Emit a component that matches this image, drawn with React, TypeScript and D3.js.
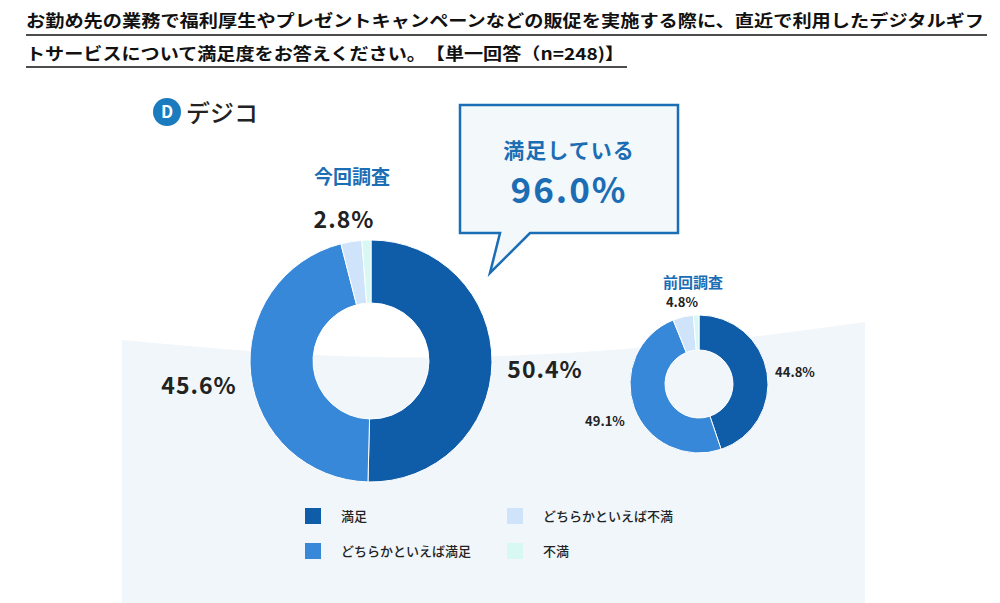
import React from "react";
import * as d3 from "d3";

const categories = ["満足", "どちらかといえば満足", "どちらかといえば不満", "不満"];
const currentValues = [50.4, 45.6, 2.8, 1.2];
const previousValues = [44.8, 49.1, 4.8, 1.3];
const colors = ["#0f5ca8", "#3788d8", "#cfe4fa", "#d8f8f4"];
const titleLines = [
  "お勤め先の業務で福利厚生やプレゼントキャンペーンなどの販促を実施する際に、直近で利用したデジタルギフ",
  "トサービスについて満足度をお答えください。　【単一回答（n=248)】",
];

const FONT = "'Noto Sans CJK JP', 'Noto Sans', sans-serif";

function Donut({ cx, cy, ro, ri, values }: { cx: number; cy: number; ro: number; ri: number; values: number[] }) {
  const pie = d3.pie<number>().value((d) => d).sort(null);
  const arc = d3.arc<d3.PieArcDatum<number>>().innerRadius(ri).outerRadius(ro);
  return (
    <g transform={`translate(${cx},${cy})`}>
      {pie(values).map((a, i) => (
        <path key={i} d={arc(a) || ""} fill={colors[i]} stroke="#fff" strokeWidth={1} />
      ))}
    </g>
  );
}

export default function App() {
  const bg = d3.line().curve(d3.curveBasis)([[122, 340], [400, 365], [700, 345], [865, 322]]);
  return (
    <svg width={1000} height={603} style={{ position: "absolute", left: 0, top: 0, fontFamily: FONT }}>
      <rect width={1000} height={603} fill="#fff" />
      <path d={`${bg} L865,603 L122,603 Z`} fill="#f0f6fa" />
      <text x={26} y={27} fontSize={16.5} fontWeight={700} fill="#111" textLength={958} lengthAdjust="spacingAndGlyphs">{titleLines[0]}</text>
      <text x={26} y={60} fontSize={16.5} fontWeight={700} fill="#111" textLength={598} lengthAdjust="spacingAndGlyphs">{titleLines[1]}</text>
      <line x1={26} x2={987} y1={35} y2={35} stroke="#111" strokeWidth={1.5} />
      <line x1={26} x2={627} y1={67} y2={67} stroke="#111" strokeWidth={1.5} />
      {/* logo */}
      <circle cx={167} cy={112} r={14} fill="#1a7bbf" />
      <text x={167} y={118} textAnchor="middle" fontSize={17} fontWeight={700} fill="#fff">D</text>
      <text x={186} y={122} fontSize={24} fontWeight={500} fill="#222">デジコ</text>
      {/* callout */}
      <path d="M460,105 H678 V233 H530 L490,273 L500,233 H460 Z" fill="#f3f8fb" stroke="#1b6db4" strokeWidth={2.5} />
      <text x={569} y={158} textAnchor="middle" fontSize={21} fontWeight={700} fill="#1b6db4" letterSpacing={1}>満足している</text>
      <text x={569} y={203} textAnchor="middle" fontSize={35} fontWeight={700} fill="#1b6db4" letterSpacing={2}>96.0%</text>
      <text x={352} y={184} textAnchor="middle" fontSize={19} fontWeight={700} fill="#1b6db4">今回調査</text>
      <text x={693} y={288} textAnchor="middle" fontSize={15} fontWeight={700} fill="#1b6db4">前回調査</text>
      <Donut cx={371} cy={361} ro={121} ri={58} values={currentValues} />
      <Donut cx={699} cy={384} ro={69} ri={34} values={previousValues} />
      <g fontWeight={700} fill="#222">
        <text x={344} y={228} textAnchor="middle" fontSize={23} letterSpacing={1}>{currentValues[2]}%</text>
        <text x={545} y={378} textAnchor="middle" fontSize={23} letterSpacing={1}>{currentValues[0]}%</text>
        <text x={199} y={394} textAnchor="middle" fontSize={23} letterSpacing={1}>{currentValues[1]}%</text>
        <text x={682} y={307} textAnchor="middle" fontSize={13}>{previousValues[2]}%</text>
        <text x={795} y={377} textAnchor="middle" fontSize={13}>{previousValues[0]}%</text>
        <text x={605} y={426} textAnchor="middle" fontSize={13}>{previousValues[1]}%</text>
      </g>
      {categories.map((c, i) => {
        const x = i < 2 ? 313 : 515;
        const y = i % 2 === 0 ? 516 : 551;
        return (
          <g key={c}>
            <rect x={x - 8} y={y - 8} width={16} height={16} fill={colors[i]} />
            <text x={x + 28} y={y + 5} fontSize={13} fontWeight={500} fill="#222">{c}</text>
          </g>
        );
      })}
    </svg>
  );
}
